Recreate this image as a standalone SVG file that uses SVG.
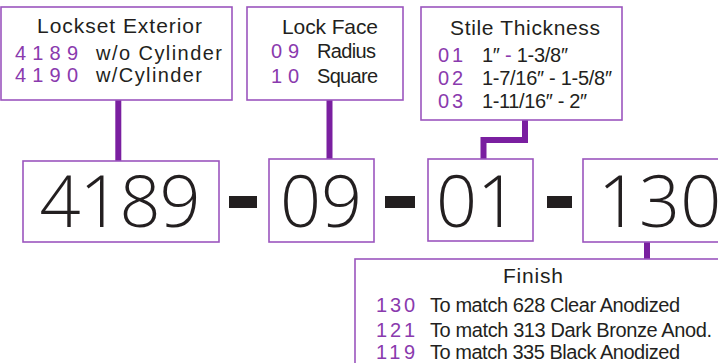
<svg xmlns="http://www.w3.org/2000/svg" width="718" height="363" viewBox="0 0 718 363">
<style>
.box{fill:#fff;stroke:#9B55BE;stroke-width:1.6}
.big{fill:#fff;stroke:#9B55BE;stroke-width:1.6}
.conn{fill:none;stroke:#7A1FA0;stroke-width:6}
.dash{fill:#231F20}
.t{font-family:"Liberation Sans",Arial,sans-serif;fill:#231F20}
.title{font-size:21px}
.lbl{font-size:20px}
.code{font-family:"Liberation Sans",Arial,sans-serif;fill:#8A3AAE;font-size:20px}
.num{font-family:"Open Sans",Lato,"Liberation Sans",Arial,sans-serif;font-weight:300;fill:#231F20;font-size:72px}
</style>
<g id="connectors">
<path class="conn" d="M118.3 100V161"/>
<path class="conn" d="M329.5 100V159"/>
<path class="conn" d="M525 120V140H483.5V159"/>
<path class="conn" d="M647 242V259"/>
</g>
<g id="lockset-exterior">
<rect class="box" x="1" y="7" width="231" height="93"/>
<text class="t title" x="37" y="33" textLength="165">Lockset Exterior</text>
<text class="code" x="15" y="60" textLength="63">4189</text>
<text class="t lbl" x="96" y="60" textLength="126">w/o Cylinder</text>
<text class="code" x="15" y="82" textLength="63">4190</text>
<text class="t lbl" x="96" y="82" textLength="106">w/Cylinder</text>
</g>
<g id="lock-face">
<rect class="box" x="247" y="7" width="156" height="93"/>
<text class="t title" x="282" y="34" textLength="96">Lock Face</text>
<text class="code" x="271" y="58" textLength="28">09</text>
<text class="t lbl" x="317" y="58" textLength="59">Radius</text>
<text class="code" x="271" y="83" textLength="28">10</text>
<text class="t lbl" x="317" y="83" textLength="61">Square</text>
</g>
<g id="stile-thickness">
<rect class="box" x="421" y="7" width="201" height="113"/>
<text class="t title" x="450" y="35" textLength="150">Stile Thickness</text>
<text class="code" x="438" y="62" textLength="25">01</text>
<text class="t lbl" x="482" y="62" textLength="86">1″ <tspan fill="#8A3AAE">-</tspan> 1-3/8″</text>
<text class="code" x="438" y="85" textLength="25">02</text>
<text class="t lbl" x="482" y="85" textLength="130">1-7/16″ - 1-5/8″</text>
<text class="code" x="438" y="108" textLength="25">03</text>
<text class="t lbl" x="482" y="108" textLength="105">1-11/16″ - 2″</text>
</g>
<g id="part-4189">
<rect class="big" x="23" y="161" width="196" height="81"/>
<text class="num" x="120" y="227" text-anchor="middle" textLength="161">4189</text>
</g>
<rect class="dash" x="229" y="196" width="28" height="12"/>
<g id="part-09">
<rect class="big" x="269" y="159" width="105" height="83"/>
<text class="num" x="321" y="227" text-anchor="middle">09</text>
</g>
<rect class="dash" x="385" y="196" width="30" height="12"/>
<g id="part-01">
<rect class="big" x="428" y="159" width="105" height="82"/>
<text class="num" x="477" y="227" text-anchor="middle">01</text>
</g>
<rect class="dash" x="547" y="196" width="25" height="12"/>
<g id="part-130">
<rect class="big" x="583" y="159" width="145" height="83"/>
<text class="num" x="598" y="227">130</text>
</g>
<g id="finish">
<rect class="box" x="355" y="259" width="380" height="120"/>
<text class="t title" x="503" y="283" textLength="60">Finish</text>
<text class="code" x="376" y="312" textLength="39">130</text>
<text class="t lbl" x="430" y="312" textLength="250">To match 628 Clear Anodized</text>
<text class="code" x="376" y="337" textLength="39">121</text>
<text class="t lbl" x="430" y="337" textLength="282">To match 313 Dark Bronze Anod.</text>
<text class="code" x="376" y="359" textLength="39">119</text>
<text class="t lbl" x="430" y="359" textLength="250">To match 335 Black Anodized</text>
</g>
</svg>
